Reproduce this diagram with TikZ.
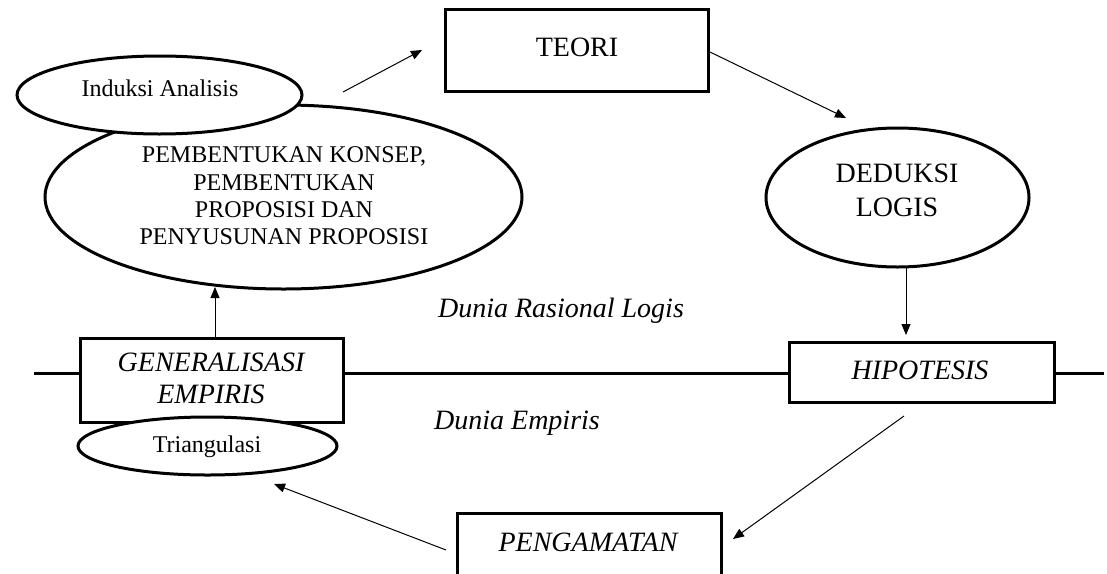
\documentclass[tikz,border=0pt]{standalone}
\usepackage{fontspec}
\setmainfont{Liberation Serif}
\usetikzlibrary{shapes.geometric,arrows.meta}
\begin{document}
\begin{tikzpicture}[x=1pt,y=-1pt,
  boxnode/.style={draw, line width=3pt, rectangle, inner sep=0pt},
  ellnode/.style={draw, line width=3pt, ellipse, inner sep=0pt, fill=white},
  bigtxt/.style={font=\fontsize{28}{32}\selectfont, align=center, inner sep=0pt},
  bigit/.style={font=\itshape\fontsize{28}{32}\selectfont, align=center, inner sep=0pt},
  smalltxt/.style={font=\fontsize{24}{27.3}\selectfont, align=center, inner sep=0pt},
  conn/.style={line width=1pt, -{Triangle[length=11pt,width=9pt]}},
  axisline/.style={line width=3pt}]
\useasboundingbox (0,0) rectangle (1107,573);
\clip (0,0) rectangle (1107,573);

% shapes
\node[boxnode, minimum width=263pt, minimum height=82pt] (teori) at (576.5,50) {};
\node[ellnode, minimum width=477pt, minimum height=184pt] (konsep) at (283.5,197) {};
\node[ellnode, minimum width=285pt, minimum height=78pt] (induksi) at (159.5,95) {};
\node[ellnode, minimum width=263pt, minimum height=139pt] (deduksi) at (897.5,197.5) {};
\node[boxnode, minimum width=265pt, minimum height=60pt] (hipotesis) at (921.5,372) {};
\node[boxnode, minimum width=263pt, minimum height=84pt] (general) at (211.5,380) {};
\node[ellnode, minimum width=259pt, minimum height=58pt] (triang) at (207.5,446) {};
\node[boxnode, minimum width=264pt, minimum height=64pt] (pengamatan) at (589,545) {};

% texts
\node[bigtxt] (teoriT) at (577,47) {TEORI};
\node[smalltxt] (konsepT) at (284,196) {PEMBENTUKAN KONSEP,\\PEMBENTUKAN\\PROPOSISI DAN\\PENYUSUNAN PROPOSISI};
\node[smalltxt, anchor=base] (induksiT) at (160,96) {Induksi Analisis};
\node[bigtxt, font=\fontsize{28}{34}\selectfont] (deduksiT) at (897,190) {DEDUKSI\\LOGIS};
\node[bigit] (hipT) at (920,370) {HIPOTESIS};
\node[bigit] (genT) at (211,378) {GENERALISASI\\EMPIRIS};
\node[smalltxt, anchor=base] (triT) at (207,452) {Triangulasi};
\node[bigit] (pengT) at (588,542) {PENGAMATAN};
\node[bigit, anchor=base] (rasional) at (561,317) {Dunia Rasional Logis};
\node[bigit, anchor=base] (empiris) at (517,429) {Dunia Empiris};

% boundary line
\coordinate (axL) at (34,373);
\coordinate (axR) at (1104,373);
\draw[axisline] (axL) -- (axL -| general.west);
\draw[axisline] (general.east |- axL) -- (hipotesis.west |- axL);
\draw[axisline] (hipotesis.east |- axL) -- (axR);

% connectors
\draw[conn] ([xshift=39.5pt,yshift=3pt]induksi.east) -- ([xshift=-21.5pt]teori.west);
\draw[conn] ([xshift=0.5pt,yshift=-2pt]teori.east) -- ([xshift=-51.5pt,yshift=8.5pt]deduksi.north);
\draw[conn] ([xshift=8.5pt,yshift=1.5pt]deduksi.south) -- ([xshift=-15.5pt,yshift=5.5pt]hipotesis.north);
\draw[conn] ([xshift=-17.5pt,yshift=-12.5pt]hipotesis.south) -- ([xshift=10.5pt,yshift=6pt]pengamatan.east);
\draw[conn] ([xshift=-9.5pt,yshift=-5pt]pengamatan.west) -- ([xshift=66.5pt,yshift=-7.5pt]triang.south);
\draw[conn] ([xshift=3.5pt]general.north) -- ([xshift=-68.5pt,yshift=3.5pt]konsep.south);
\end{tikzpicture}
\end{document}
